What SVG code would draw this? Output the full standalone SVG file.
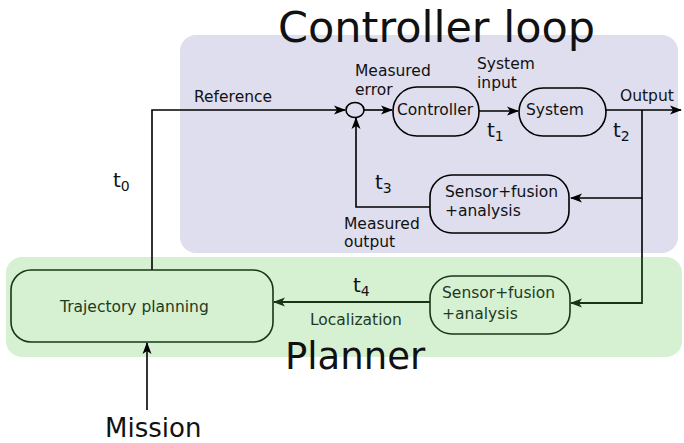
<svg xmlns="http://www.w3.org/2000/svg" width="684" height="443" viewBox="0 0 684 443">
<defs>
<marker id="ah" viewBox="0 0 12 10" refX="11" refY="5" markerWidth="12" markerHeight="10" markerUnits="userSpaceOnUse" orient="auto">
<path d="M0,0.5 L12,5 L0,9.5 L3,5 Z" fill="#000"/>
</marker>
<marker id="ahg" viewBox="0 0 12 10" refX="11" refY="5" markerWidth="12" markerHeight="10" markerUnits="userSpaceOnUse" orient="auto">
<path d="M0,0.5 L12,5 L0,9.5 L3,5 Z" fill="#173417"/>
</marker>
<style>
text{font-family:"DejaVu Sans","Liberation Sans",sans-serif;fill:#111}
.lbl{font-size:15.5px}
.t{font-size:20px}
.sub{font-size:14px}
.g{fill:#1e3a1e}
.box{fill:none;stroke:#000;stroke-width:1.6}
.gbox{fill:#d6f0d2;stroke:#1a361a;stroke-width:1.6}
.ln{fill:none;stroke:#000;stroke-width:1.6}
.lng{fill:none;stroke:#173417;stroke-width:1.8}
</style>
</defs>
<rect x="180" y="35" width="498" height="218" rx="16" fill="#dedeee"/>
<rect x="6" y="257" width="676" height="100" rx="16" fill="#d6f0d2"/>
<text x="278" y="42" style="font-size:43px">Controller loop</text>
<text x="285" y="369" style="font-size:37px">Planner</text>
<text x="105" y="437" style="font-size:26px">Mission</text>

<g id="connectors">
<path class="ln" d="M152,270 V110 H345" marker-end="url(#ah)"/>
<path class="ln" d="M364,110 H392" marker-end="url(#ah)"/>
<path class="ln" d="M479,111 H518" marker-end="url(#ah)"/>
<path class="ln" d="M606,110 H681" marker-end="url(#ah)"/>
<path class="ln" d="M642,110 V198 H571" marker-end="url(#ah)"/>
<path class="ln" d="M430,207 H356 V118" marker-end="url(#ah)"/>
<path class="ln" d="M642,198 V257"/>
<path class="lng" d="M642,256 V303 H571" marker-end="url(#ahg)"/>
<path class="lng" d="M430,302 H274" marker-end="url(#ahg)"/>
<path class="ln" d="M147,410 V343" marker-end="url(#ah)"/>
</g>

<g id="sum"><ellipse cx="355" cy="110" rx="9" ry="7.5" class="box"/></g>
<g id="controller"><rect x="393" y="87" width="86" height="49" rx="24" class="box"/><text class="lbl" x="397" y="115">Controller</text></g>
<g id="system"><rect x="519" y="88" width="87" height="48" rx="24" class="box"/><text class="lbl" x="526" y="115">System</text></g>
<g id="sensor1"><rect x="430" y="175" width="139" height="58" rx="22" class="box"/><text class="lbl" x="445" y="197">Sensor+fusion</text><text class="lbl" x="445" y="216">+analysis</text></g>
<g id="sensor2"><rect x="430" y="276" width="140" height="58" rx="22" class="gbox"/><text class="lbl g" x="442" y="298">Sensor+fusion</text><text class="lbl g" x="442" y="319">+analysis</text></g>
<g id="trajectory"><rect x="11" y="270" width="262" height="72" rx="20" class="gbox"/><text class="lbl g" x="60" y="312">Trajectory planning</text></g>

<g id="labels">
<text class="lbl" x="194" y="102">Reference</text>
<text class="lbl" x="355" y="76">Measured</text>
<text class="lbl" x="355" y="95">error</text>
<text class="lbl" x="477" y="69">System</text>
<text class="lbl" x="477" y="88">input</text>
<text class="lbl" x="620" y="101">Output</text>
<text class="lbl" x="344" y="229">Measured</text>
<text class="lbl" x="344" y="247">output</text>
<text class="lbl g" x="310" y="325">Localization</text>
<text class="t" x="113" y="187">t<tspan class="sub" dy="4">0</tspan></text>
<text class="t" x="487" y="137">t<tspan class="sub" dy="4">1</tspan></text>
<text class="t" x="613" y="137">t<tspan class="sub" dy="4">2</tspan></text>
<text class="t" x="375" y="189">t<tspan class="sub" dy="4">3</tspan></text>
<text class="t" x="353" y="292">t<tspan class="sub" dy="4">4</tspan></text>
</g>
</svg>
